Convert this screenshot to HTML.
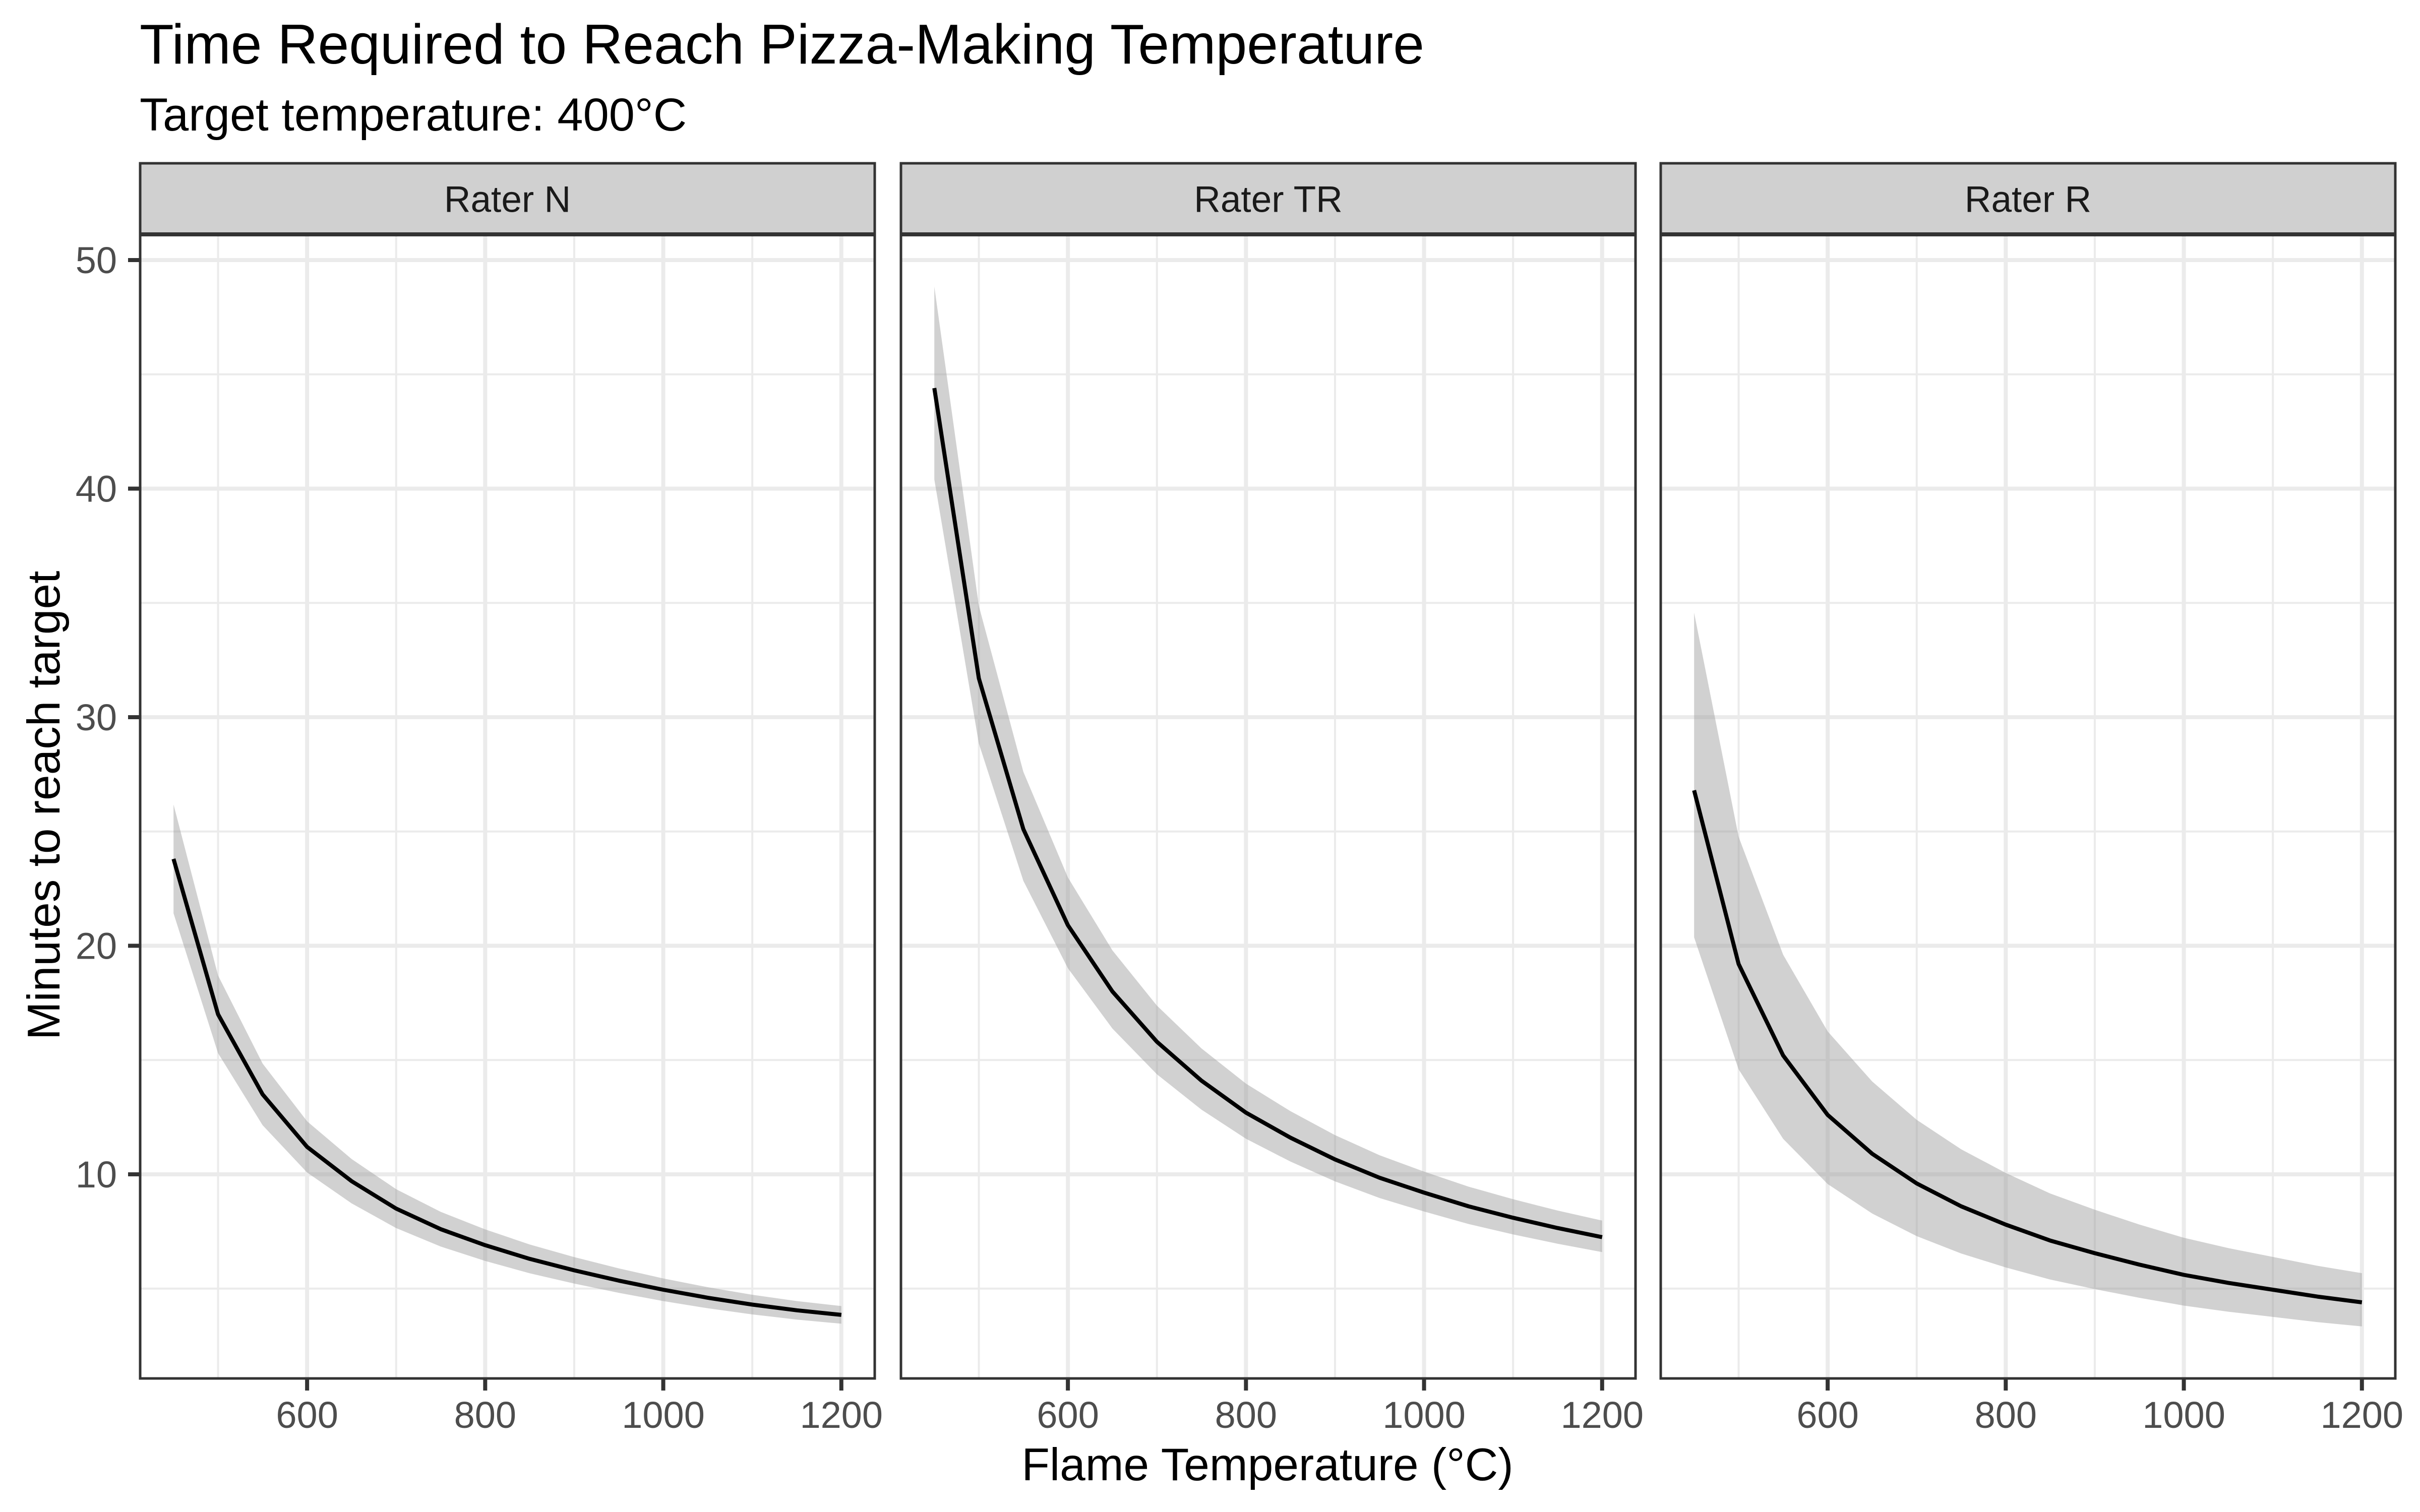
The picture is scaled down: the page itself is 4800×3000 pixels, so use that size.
<!DOCTYPE html>
<html><head><meta charset="utf-8">
<style>
html,body{margin:0;padding:0;background:#fff;}
svg{display:block;}
text{font-family:"Liberation Sans",Arial,sans-serif;}
</style></head>
<body>
<svg id="s" xmlns="http://www.w3.org/2000/svg" width="4800" height="3000" viewBox="0 0 4800 3000">
<rect width="4800" height="3000" fill="#fff"/>
<text x="277" y="126" font-size="111" fill="#000">Time Required to Reach Pizza-Making Temperature</text>
<text x="277" y="259" font-size="92" fill="#000">Target temperature: 400°C</text>
<text x="2514" y="2937" font-size="91" fill="#000" text-anchor="middle">Flame Temperature (°C)</text>
<text transform="translate(118,1598) rotate(-90)" font-size="91" fill="#000" text-anchor="middle">Minutes to reach target</text>
<g id="g"></g>
</svg>
<script>
var NS="http://www.w3.org/2000/svg",g=document.getElementById('g');
function el(t,a,txt){var e=document.createElementNS(NS,t);for(var k in a)e.setAttribute(k,a[k]);if(txt!==undefined)e.textContent=txt;g.appendChild(e);return e;}
var lefts=[278,1787,3294],W=1457,top0=465,bot=2735,stripTop=324;
function Y(v){return 516+(50-v)*45.35;}
var xs=[];for(var t=450;t<=1200;t+=50)xs.push(t);
var data=[
 {name:"Rater N",m:[23.8,17,13.5,11.2,9.7,8.5,7.6,6.9,6.3,5.8,5.35,4.95,4.6,4.3,4.05,3.85],lo:0.9,hi:1.1},
 {name:"Rater TR",m:[44.4,31.7,25.1,20.9,18,15.8,14.1,12.7,11.6,10.65,9.85,9.2,8.6,8.1,7.65,7.25],lo:0.91,hi:1.1},
 {name:"Rater R",m:[26.8,19.2,15.2,12.6,10.9,9.6,8.6,7.8,7.1,6.55,6.05,5.6,5.25,4.95,4.65,4.4],lo:0.76,hi:1.29}
];
for(var p=0;p<3;p++){
 var L=lefts[p];function X(v){return L+(v-412.5)*W/825;}
 el('rect',{x:L,y:top0,width:W,height:bot-top0,fill:'#fff'});
 [500,700,900,1100].forEach(function(v){el('line',{x1:X(v),x2:X(v),y1:top0,y2:bot,stroke:'#ebebeb','stroke-width':4});});
 [5,15,25,35,45].forEach(function(v){el('line',{x1:L,x2:L+W,y1:Y(v),y2:Y(v),stroke:'#ebebeb','stroke-width':4});});
 [600,800,1000,1200].forEach(function(v){el('line',{x1:X(v),x2:X(v),y1:top0,y2:bot,stroke:'#ebebeb','stroke-width':8});});
 [10,20,30,40,50].forEach(function(v){el('line',{x1:L,x2:L+W,y1:Y(v),y2:Y(v),stroke:'#ebebeb','stroke-width':8});});
 var d=data[p],up=[],dn=[],ln=[];
 for(var i=0;i<xs.length;i++){up.push(X(xs[i]).toFixed(1)+','+Y(d.m[i]*d.hi).toFixed(1));dn.unshift(X(xs[i]).toFixed(1)+','+Y(d.m[i]*d.lo).toFixed(1));ln.push(X(xs[i]).toFixed(1)+','+Y(d.m[i]).toFixed(1));}
 el('polygon',{points:up.concat(dn).join(' '),fill:'#999','fill-opacity':0.45});
 el('polyline',{points:ln.join(' '),fill:'none',stroke:'#000','stroke-width':8,'stroke-linejoin':'round'});
 el('rect',{x:L,y:top0,width:W,height:bot-top0,fill:'none',stroke:'#333','stroke-width':5});
 el('rect',{x:L,y:stripTop,width:W,height:top0-stripTop,fill:'#d0d0d0',stroke:'#333','stroke-width':5});
 el('line',{x1:L,x2:L+W,y1:top0,y2:top0,stroke:'#333','stroke-width':8});
 el('text',{x:L+W/2,y:top0-(top0-stripTop)/2+26,'font-size':73,fill:'#1a1a1a','text-anchor':'middle'},d.name);
 [600,800,1000,1200].forEach(function(v){
  el('line',{x1:X(v),x2:X(v),y1:bot,y2:bot+24,stroke:'#333','stroke-width':8});
  el('text',{x:X(v),y:2833,'font-size':74,fill:'#4d4d4d','text-anchor':'middle'},String(v));
 });
}
[10,20,30,40,50].forEach(function(v){
 el('line',{x1:254,x2:278,y1:Y(v),y2:Y(v),stroke:'#333','stroke-width':8});
 el('text',{x:232,y:Y(v)+26,'font-size':74,fill:'#4d4d4d','text-anchor':'end'},String(v));
});
</script>
</body></html>
